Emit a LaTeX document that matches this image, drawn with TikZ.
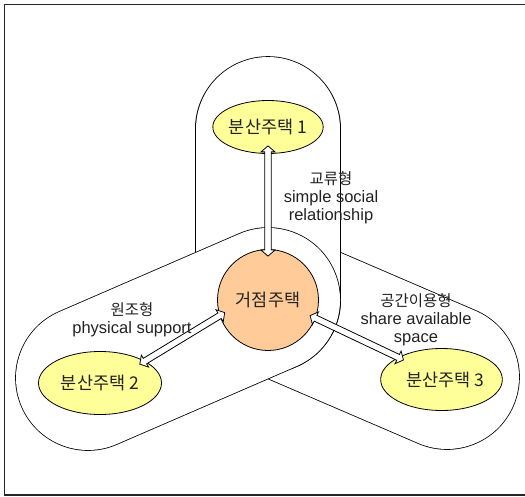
\documentclass[tikz,border=0pt]{standalone}
\usepackage{fontspec}
\setmainfont{Liberation Sans}
\newfontfamily\kr{Noto Sans CJK KR}
\usetikzlibrary{calc,shapes.geometric}

\definecolor{satyellow}{HTML}{FFFF99}
\definecolor{hubpeach}{HTML}{FFCC99}
\definecolor{inkgray}{HTML}{222222}

% arrow head and shaft sizes for the hollow two-way arrows
\newcommand\headlen{6pt}
\newcommand\headhw{7pt}
\newcommand\shafthw{3.2pt}

% hollow double-headed arrow between two named coordinates
\newcommand\hollowarrow[2]{%
  \coordinate (hA) at ($(#1)!\headlen!(#2)$);
  \coordinate (hB) at ($(#2)!\headlen!(#1)$);
  \filldraw[arrowbody]
    (#1)
    -- ($(hA)!\headhw!90:(#2)$)
    -- ($(hA)!\shafthw!90:(#2)$)
    -- ($(hB)!\shafthw!-90:(#1)$)
    -- ($(hB)!\headhw!-90:(#1)$)
    -- (#2)
    -- ($(hB)!\headhw!90:(#1)$)
    -- ($(hB)!\shafthw!90:(#1)$)
    -- ($(hA)!\shafthw!-90:(#2)$)
    -- ($(hA)!\headhw!-90:(#2)$)
    -- cycle;}

\tikzset{
  frameline/.style={draw=black!85, line width=1.4pt},
  zoneedge/.style={draw=black, line width=145.6pt, line cap=round},
  zonefill/.style={draw=white, line width=144pt, line cap=round},
  satellite/.style={ellipse, draw=black, line width=0.8pt, fill=satyellow,
    inner sep=0pt, text=inkgray, font=\kr\fontsize{17.5}{20}\selectfont},
  hubnode/.style={circle, draw=black, line width=0.8pt, fill=hubpeach,
    minimum size=101pt, inner sep=0pt, text=inkgray,
    font=\kr\fontsize{17.5}{20}\selectfont},
  tag/.style={align=center, text=inkgray, font=\fontsize{16.5}{18}\selectfont},
  arrowbody/.style={fill=white, draw=black, line width=0.8pt, line join=miter},
}

\begin{document}
\begin{tikzpicture}[x=1pt, y=-1pt]
\useasboundingbox (0,0) rectangle (525,497);

% outer frame (its right side lies beyond the page)
\draw[frameline] (535,4.5) -- (4.5,4.5) -- (4.5,495) -- (535,495);

% ends of the three zones
\coordinate (hubc) at (268,300);
\coordinate (northend) at (268,129);
\coordinate (westend) at (88,378);
\coordinate (eastend) at (447,377);

% zones: east first, then north, then west on top
\draw[zoneedge] (hubc) -- (eastend);
\draw[zonefill] (hubc) -- (eastend);
\draw[zoneedge] (hubc) -- (northend);
\draw[zonefill] (hubc) -- (northend);
\draw[zoneedge] (hubc) -- (westend);
\draw[zonefill] (hubc) -- (westend);

% houses
\node[hubnode] (hub) at (268,300) {거점주택};
\node[satellite, minimum width=107pt, minimum height=53pt] (n1) at (268,127) {분산주택 1};
\node[satellite, minimum width=123pt, minimum height=63pt] (n2) at (100,383) {분산주택 2};
\node[satellite, minimum width=113pt, minimum height=62pt] (n3) at (441.5,379.5) {\hspace*{8pt}분산주택 3};

% arrow tips reach a little inside the houses
\coordinate (a1s) at ($(n1.270)!-8pt!(hub.90)$);
\coordinate (a1e) at ($(hub.90)!-7pt!(n1.270)$);
\coordinate (a2s) at ($(hub.198)!-6pt!(n2.26)$);
\coordinate (a2e) at ($(n2.26)!-6pt!(hub.198)$);
\coordinate (a3s) at ($(hub.339)!-6pt!(n3.153)$);
\coordinate (a3e) at ($(n3.153)!-6pt!(hub.339)$);

\hollowarrow{a1s}{a1e}
\hollowarrow{a2s}{a2e}
\hollowarrow{a3s}{a3e}

% relation labels
\node[tag] (lab1) at (331,198) {{\kr\fontsize{15.5}{18}\selectfont 교류형}\\simple social\\relationship};
\node[tag] (lab2) at (132,320) {{\kr\fontsize{15.5}{18}\selectfont 원조형}\\physical support};
\node[tag] (lab3) at (416,320) {{\kr\fontsize{15.5}{18}\selectfont 공간이용형}\\share available\\space};
\end{tikzpicture}
\end{document}
